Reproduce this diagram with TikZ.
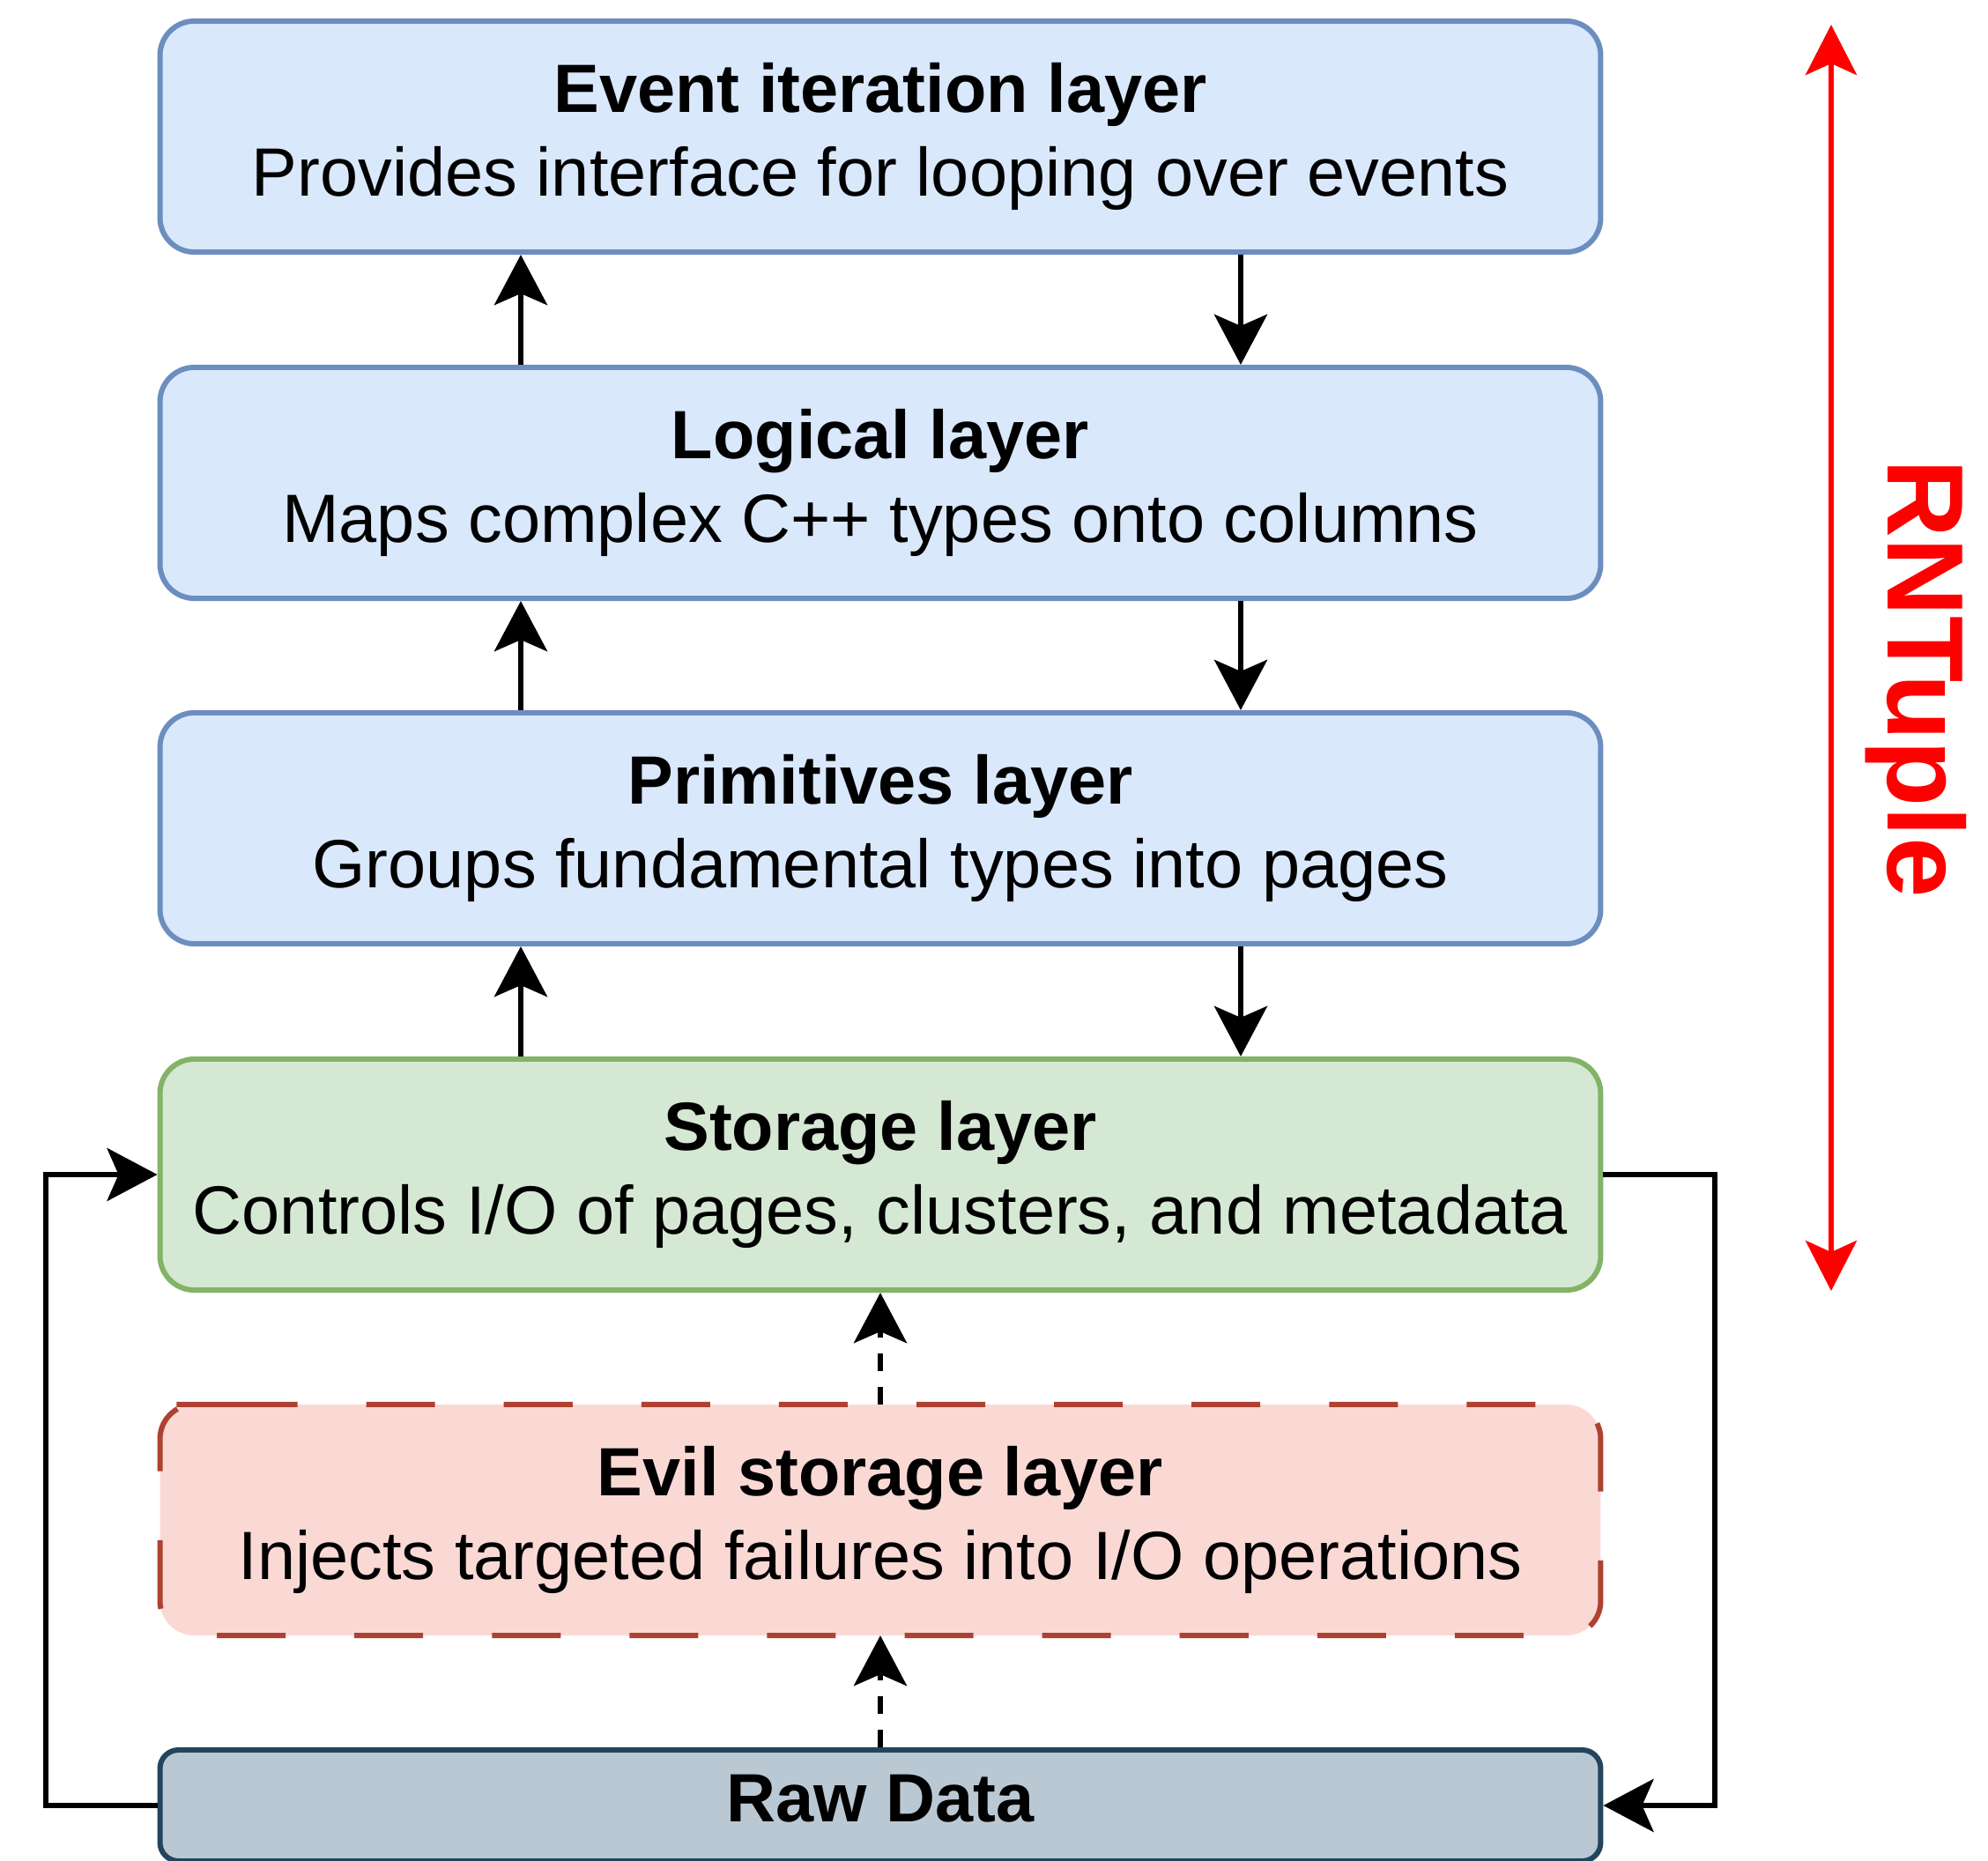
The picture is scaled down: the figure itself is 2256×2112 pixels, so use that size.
\documentclass[tikz,border=0pt]{standalone}
\usepackage{fontspec}
\setmainfont{Liberation Sans}
\usetikzlibrary{arrows.meta,calc}
\definecolor{bluefill}{HTML}{DAE8FC}
\definecolor{bluestroke}{HTML}{6C8EBF}
\definecolor{greenfill}{HTML}{D5E8D4}
\definecolor{greenstroke}{HTML}{82B366}
\definecolor{evilfill}{HTML}{FAD9D5}
\definecolor{evilstroke}{HTML}{AE4132}
\definecolor{rawfill}{HTML}{BAC8D3}
\definecolor{rawstroke}{HTML}{23445D}
\definecolor{rntred}{HTML}{FF0000}
\begin{document}
\begin{tikzpicture}[x=0.01cm,y=-0.01cm,
  layer/.style={rectangle, rounded corners=0.39cm, line width=0.06cm,
    minimum width=16.34cm, minimum height=2.62cm, inner sep=0pt,
    align=center, font=\fontsize{22.05}{26.95}\selectfont},
  bluebox/.style={layer, draw=bluestroke, fill=bluefill},
  greenbox/.style={layer, draw=greenstroke, fill=greenfill},
  evilbox/.style={layer, fill=evilfill, outer sep=0pt},
  evilborder/.style={draw=evilstroke, line width=0.06cm, rounded corners=0.39cm,
    dash pattern=on 0.78cm off 0.78cm},
  rawbox/.style={layer, rounded corners=0.21cm, minimum height=1.26cm,
    draw=rawstroke, fill=rawfill, text height=0.555cm, text depth=0.195cm},
  conn/.style={line width=0.06cm, -{Stealth[length=0.57cm,width=0.6cm,inset=0.13cm]}},
  dconn/.style={conn, dash pattern=on 0.2cm off 0.18cm},
  redarrow/.style={draw=rntred, line width=0.06cm,
    {Stealth[length=0.57cm,width=0.58cm,inset=0.13cm,fill=rntred]}-{Stealth[length=0.57cm,width=0.58cm,inset=0.13cm,fill=rntred]}},
  sidelabel/.style={rotate=-90, text=rntred, inner sep=0pt,
    font=\fontsize{35}{42}\selectfont\bfseries}
]
\clip (0,0) rectangle (2256,2112);

\node[bluebox] (ev) at (999,155) {\textbf{Event iteration layer}\\Provides interface for looping over events};
\node[bluebox] (lg) at (999,548) {\textbf{Logical layer}\\Maps complex C++ types onto columns};
\node[bluebox] (pr) at (999,940) {\textbf{Primitives layer}\\Groups fundamental types into pages};
\node[greenbox] (st) at (999,1333) {\textbf{Storage layer}\\Controls I/O of pages, clusters, and metadata};
\node[evilbox] (evil) at (999,1725) {\textbf{Evil storage layer}\\Injects targeted failures into I/O operations};
\draw[evilborder] ($(evil.north west)+(39,0)$) -- (evil.north east) -- (evil.south east)
  -- (evil.south west) -- (evil.north west) -- cycle;
\node[rawbox] (raw) at (999,2049) {\textbf{Raw Data}};

\coordinate (upx) at (591,0);
\coordinate (dnx) at (1408,0);
\coordinate (lx) at (52,0);
\coordinate (rx) at (1946,0);

\draw[conn] (lg.north -| upx) -- (ev.south -| upx);
\draw[conn] (ev.south -| dnx) -- (lg.north -| dnx);
\draw[conn] (pr.north -| upx) -- (lg.south -| upx);
\draw[conn] (lg.south -| dnx) -- (pr.north -| dnx);
\draw[conn] (st.north -| upx) -- (pr.south -| upx);
\draw[conn] (pr.south -| dnx) -- (st.north -| dnx);

\draw[dconn] (evil.north) -- (st.south);
\draw[dconn] (raw.north) -- (evil.south);

\draw[conn] (raw.west) -- (raw.west -| lx) -- (st.west -| lx) -- (st.west);
\draw[conn] (st.east) -- (st.east -| rx) -- (raw.east -| rx) -- (raw.east);

\coordinate (rtop) at (2078,28);
\coordinate (rbot) at (2078,1465);
\draw[redarrow] (rbot) -- (rtop);
\node[sidelabel] (rnt) at (2174,770) {RNTuple};
\end{tikzpicture}
\end{document}
